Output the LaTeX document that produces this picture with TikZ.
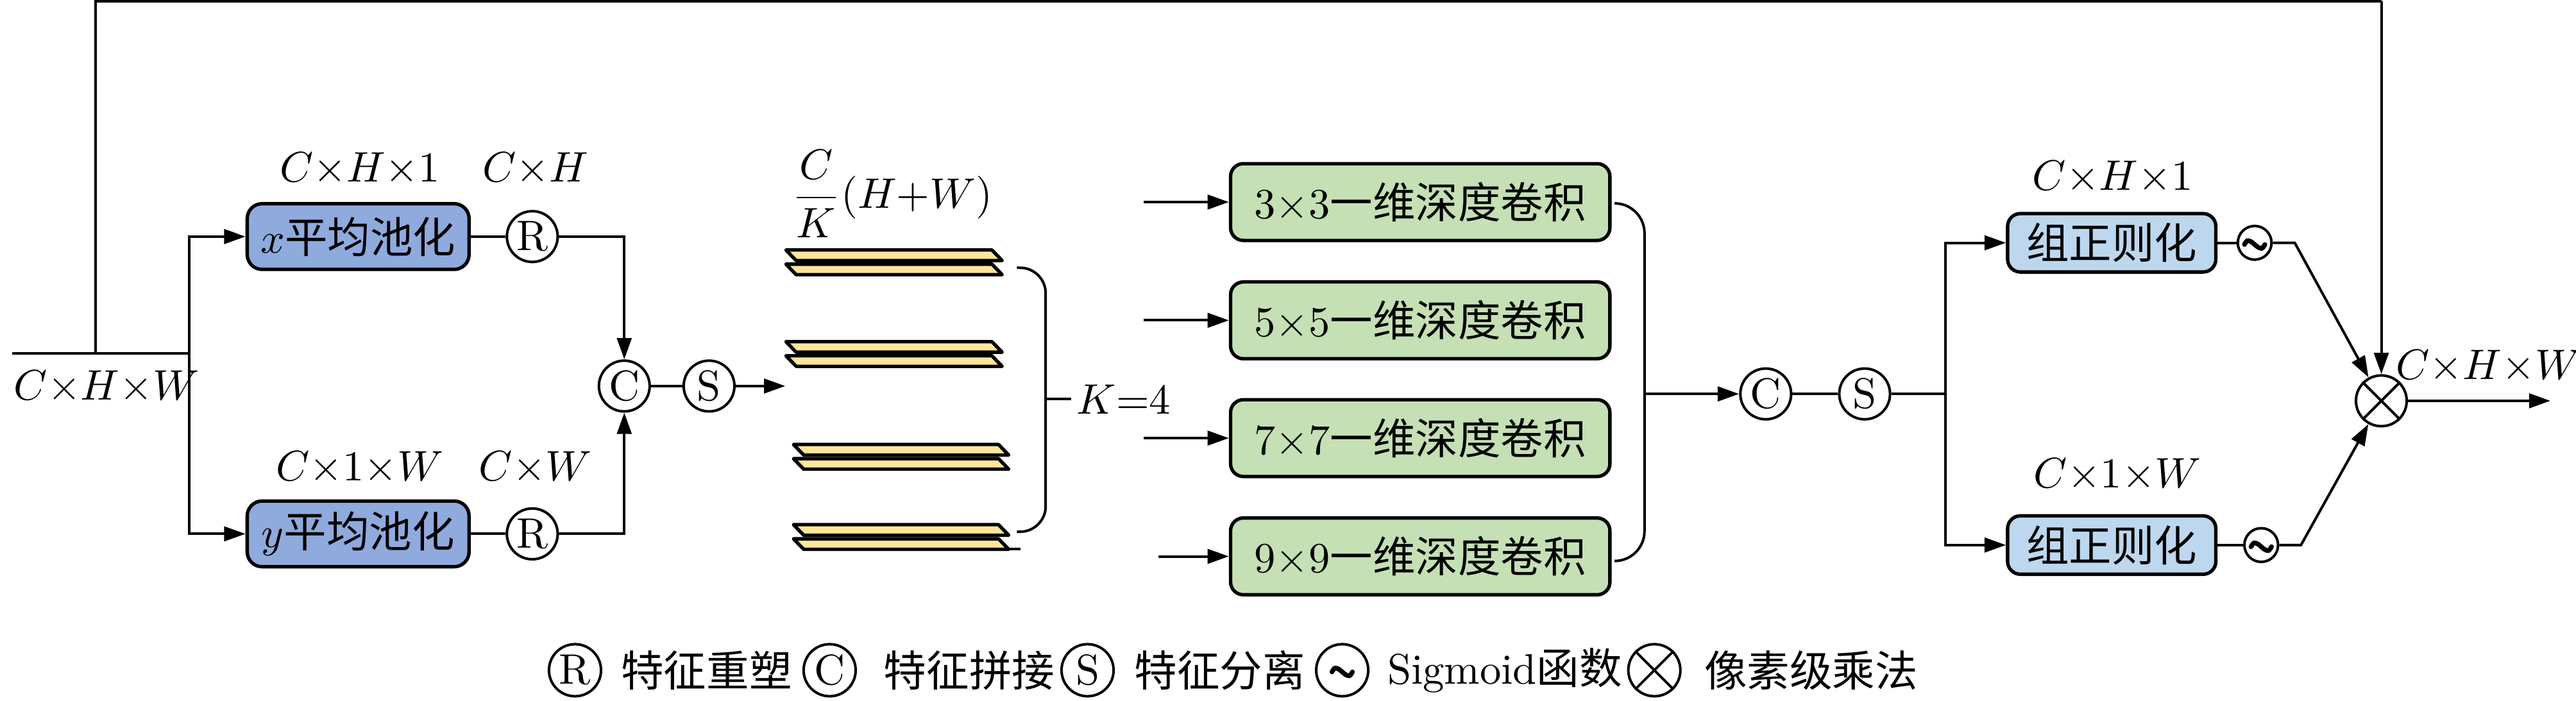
\documentclass[tikz,border=0pt]{standalone}
\usepackage{fontspec}
\usepackage{amsmath}
\newfontfamily\cjk{Noto Sans CJK SC}
\usetikzlibrary{arrows.meta}
\definecolor{poolblue}{HTML}{8FAADC}
\definecolor{convgreen}{HTML}{C5E0B4}
\definecolor{gnblue}{HTML}{BDD7EE}
\definecolor{plateyellow}{HTML}{FFE699}
\newcommand\platepair[3]{%
  \draw[plate] (#1,#3) -- (#2-6.2,#3) -- (#2,#3+6.4) -- (#1+6.2,#3+6.4) -- cycle;
  \draw[plate] (#1,#3+8.6) -- (#2-6.2,#3+8.6) -- (#2,#3+15) -- (#1+6.2,#3+15) -- cycle;}
\newcommand\sigwave[1]{%
  \draw[line width=1.1pt,line cap=round] ([xshift=-2.4pt,yshift=-0.4pt]#1.center) sin ++(0.8pt,0.9pt) cos ++(1.6pt,-0.9pt) sin ++(1.6pt,-0.9pt) cos ++(0.8pt,0.9pt);}
\begin{document}
\begin{tikzpicture}[x=0.385pt,y=-0.385pt,
  line/.style={line width=0.6pt},
  arr/.style={line width=0.6pt,-{Triangle[length=5pt,width=3.4pt]}},
  pool/.style={draw,line width=0.8pt,fill=poolblue,rounded corners=3.5pt,minimum width=52pt,minimum height=15.4pt,inner sep=0pt},
  conv/.style={draw,line width=0.8pt,fill=convgreen,rounded corners=3pt,minimum width=88.9pt,minimum height=18pt,inner sep=0pt},
  gn/.style={draw,line width=0.8pt,fill=gnblue,rounded corners=3pt,minimum width=48.8pt,minimum height=13.7pt,inner sep=0pt},
  op/.style={draw,circle,line width=0.6pt,minimum size=11.9pt,inner sep=0pt,font=\normalsize},
  legop/.style={draw,circle,line width=0.6pt,minimum size=12.2pt,inner sep=0pt,font=\normalsize},
  sig/.style={draw,circle,line width=0.6pt,minimum size=7.9pt,inner sep=0pt},
  mul/.style={draw,circle,line width=0.6pt,minimum size=11.9pt,inner sep=0pt},
  lab/.style={inner sep=0pt},
  leg/.style={inner sep=0pt,anchor=west},
  plate/.style={draw,line width=0.8pt,fill=plateyellow,line join=round},
]
\useasboundingbox (0,0) rectangle (1568,426.4);

% ---- input and pooling ----
\coordinate (in) at (7.5,215);
\coordinate (fb) at (58,215);
\coordinate (br) at (115,215);
\node[lab,anchor=west] (l0) at (8,235.5) {$C{\times}H{\times}W$};
\node[pool] (xp) at (218,144) {$x${\cjk 平均池化}};
\node[pool] (yp) at (218,325) {$y${\cjk 平均池化}};
\node[op] (r1) at (324,144) {R};
\node[op] (r2) at (324,325) {R};
\node[op] (c1) at (380,235) {C};
\node[op] (s1) at (431.6,235) {S};
\coordinate (st) at (478,235);
\node[lab] (l1) at (219,103) {$C{\times}H{\times}1$};
\node[lab] (l2) at (326,103) {$C{\times}H$};
\node[lab] (l3) at (219,285) {$C{\times}1{\times}W$};
\node[lab] (l4) at (326,285) {$C{\times}W$};

\draw[line] (in) -- (br);
\draw[arr] (br) |- (xp.west);
\draw[arr] (br) |- (yp.west);
\draw[line] (xp) -- (r1);
\draw[line] (yp) -- (r2);
\draw[arr] (r1) -| (c1);
\draw[arr] (r2) -| (c1);
\draw[line] (c1) -- (s1);
\draw[arr] (s1) -- (st);

% ---- plates ----
\node[lab] (frac) at (543,118) {$\dfrac{C}{K}(H{+}W)$};
\platepair{478.4}{610}{152.2}
\platepair{478.4}{610}{208}
\platepair{483}{614}{270.6}
\platepair{483}{614}{319.4}
\draw[line] (614,334.3) -- (621,334.3);
\draw[line,rounded corners=6pt] (619,163) -- (636.5,163) -- (636.5,323.7) -- (619,323.7);
\coordinate (kb) at (636.5,243);
\coordinate (kt) at (652,243);
\draw[line] (kb) -- (kt);
\node[lab] (kl) at (684,243) {$K{=}4$};

% ---- convolutions ----
\node[conv] (k3) at (864.5,123) {$3{\times}3${\cjk 一维深度卷积}};
\node[conv] (k5) at (864.5,195) {$5{\times}5${\cjk 一维深度卷积}};
\node[conv] (k7) at (864.5,266.7) {$7{\times}7${\cjk 一维深度卷积}};
\node[conv] (k9) at (864.5,338.7) {$9{\times}9${\cjk 一维深度卷积}};
\coordinate (a3) at (696,123);
\coordinate (a5) at (696,195);
\coordinate (a7) at (696,266.7);
\coordinate (a9) at (705,338.7);
\draw[arr] (a3) -- (k3);
\draw[arr] (a5) -- (k5);
\draw[arr] (a7) -- (k7);
\draw[arr] (a9) -- (k9);
\draw[line,rounded corners=7pt] (983,123.8) -- (1001,123.8) -- (1001,341.5) -- (983,341.5);
\coordinate (bm) at (1001,239.8);
\node[op] (c2) at (1074.8,239.8) {C};
\node[op] (s2) at (1135,239.8) {S};
\coordinate (sp) at (1184,239.8);
\draw[arr] (bm) -- (c2);
\draw[line] (c2) -- (s2) -- (sp);

% ---- group norm ----
\node[gn] (g1) at (1285.4,147.8) {\cjk 组正则化};
\node[gn] (g2) at (1285.4,331.8) {\cjk 组正则化};
\node[lab] (l5) at (1286,108) {$C{\times}H{\times}1$};
\node[lab] (l6) at (1289,289) {$C{\times}1{\times}W$};
\draw[arr] (sp) |- (g1.west);
\draw[arr] (sp) |- (g2.west);
\node[sig] (t1) at (1372.4,147.8) {};
\node[sig] (t2) at (1376.4,331.8) {};
\sigwave{t1}
\sigwave{t2}
\draw[line] (g1) -- (t1);
\draw[line] (g2) -- (t2);
\node[mul] (m) at (1449.5,244) {};
\draw[line] (m.45) -- (m.225) (m.135) -- (m.315);
\coordinate (k1) at (1396.8,147.8);
\coordinate (k2) at (1400.6,331.8);
\draw[arr] (t1) -- (k1) -- (m);
\draw[arr] (t2) -- (k2) -- (m);
\coordinate (tl) at (58,0.8);
\coordinate (tr) at (1449.5,0.8);
\draw[line] (fb) -- (tl) -- (tr);
\draw[arr] (tr) -- (m);
\coordinate (out) at (1552.4,244);
\draw[arr] (m) -- (out);
\node[lab,anchor=west] (l7) at (1458,223) {$C{\times}H{\times}W$};

% ---- legend ----
\node[legop] (er) at (350,408) {R};
\node[leg] (et1) at (377.6,408) {\cjk 特征重塑};
\node[legop] (ec) at (505,408) {C};
\node[leg] (et2) at (537.5,408) {\cjk 特征拼接};
\node[legop] (es) at (662,408) {S};
\node[leg] (et3) at (690,408) {\cjk 特征分离};
\node[legop] (et) at (817,408) {};
\sigwave{et}
\node[leg] (et4) at (844,408) {Sigmoid{\cjk 函数}};
\node[legop] (em) at (1007,408) {};
\draw[line] (em.45) -- (em.225) (em.135) -- (em.315);
\node[leg] (et5) at (1037,408) {\cjk 像素级乘法};
\end{tikzpicture}
\end{document}
